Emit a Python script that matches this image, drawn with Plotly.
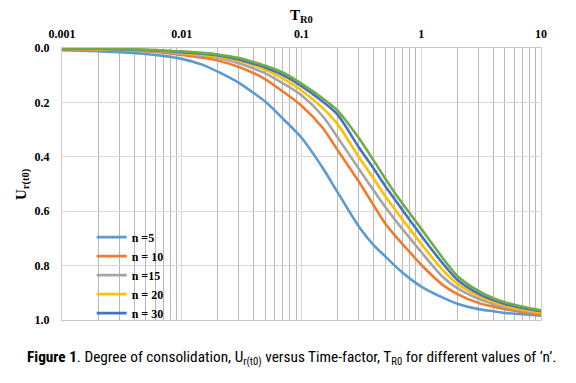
import plotly.graph_objects as go

T = [0.001, 0.002, 0.003, 0.005, 0.007, 0.01, 0.015, 0.02, 0.03, 0.04, 0.05, 0.07,
     0.1, 0.15, 0.2, 0.3, 0.4, 0.5, 0.6, 0.7, 0.8, 1, 1.5, 2, 3, 4, 5, 7, 10]

u_n5 = [0.008, 0.012, 0.015, 0.022, 0.029, 0.040, 0.062, 0.087, 0.128, 0.166, 0.198, 0.26,
        0.33, 0.44, 0.53, 0.655, 0.725, 0.766, 0.80, 0.826, 0.847, 0.877, 0.917, 0.94, 0.96, 0.968, 0.974, 0.979, 0.984]
u_n10 = [0.004, 0.006, 0.008, 0.012, 0.017, 0.026, 0.036, 0.046, 0.07, 0.093, 0.115, 0.16,
         0.212, 0.293, 0.375, 0.49, 0.578, 0.645, 0.688, 0.722, 0.75, 0.797, 0.87, 0.905, 0.937, 0.951, 0.96, 0.971, 0.979]
u_n15 = [0.003, 0.005, 0.007, 0.010, 0.014, 0.021, 0.029, 0.036, 0.056, 0.076, 0.093, 0.13,
         0.174, 0.25, 0.328, 0.443, 0.523, 0.584, 0.63, 0.667, 0.698, 0.75, 0.84, 0.883, 0.922, 0.941, 0.953, 0.965, 0.975]
u_n20 = [0.003, 0.004, 0.006, 0.009, 0.012, 0.018, 0.025, 0.031, 0.047, 0.064, 0.08, 0.113,
         0.156, 0.22, 0.28, 0.40, 0.48, 0.545, 0.592, 0.632, 0.665, 0.72, 0.815, 0.867, 0.912, 0.934, 0.947, 0.961, 0.972]
u_n30 = [0.002, 0.003, 0.005, 0.008, 0.011, 0.015, 0.021, 0.027, 0.042, 0.058, 0.072, 0.10,
         0.14, 0.197, 0.245, 0.364, 0.443, 0.507, 0.556, 0.597, 0.632, 0.69, 0.79, 0.852, 0.903, 0.927, 0.941, 0.956, 0.968]
u_green = [0.001, 0.002, 0.004, 0.006, 0.009, 0.012, 0.018, 0.024, 0.037, 0.052, 0.065, 0.09,
           0.131, 0.185, 0.23, 0.33, 0.413, 0.48, 0.532, 0.573, 0.607, 0.665, 0.77, 0.838, 0.893, 0.92, 0.935, 0.951, 0.964]

series_names = ["n =5", "n = 10", "n =15", "n = 20", "n = 30", "n = 50"]
series_values = [u_n5, u_n10, u_n15, u_n20, u_n30, u_green]
series_colors = ["#5B9BD5", "#ED7D31", "#A5A5A5", "#FFC000", "#4472C4", "#70AD47"]
series_in_legend = [True, True, True, True, True, False]

x_ticks = [0.001, 0.01, 0.1, 1, 10]
x_tick_labels = ["0.001", "0.01", "0.1", "1", "10"]
y_ticks = [0.0, 0.2, 0.4, 0.6, 0.8, 1.0]

serif = "Liberation Serif, Times New Roman, serif"

fig = go.Figure()
for name, vals, col, show in zip(series_names, series_values, series_colors, series_in_legend):
    fig.add_trace(go.Scatter(x=T, y=vals, mode="lines", name=name, showlegend=show,
                             line=dict(color=col, width=2.6, shape="spline", smoothing=0.8)))

fig.update_layout(
    width=576, height=383,
    margin=dict(l=62, r=35, t=48, b=63, autoexpand=False),
    paper_bgcolor="white", plot_bgcolor="white",
    font=dict(family=serif, color="black"),
    showlegend=True,
    legend=dict(x=0.062, y=0.358, xanchor="left", yanchor="top",
                bgcolor="rgba(0,0,0,0)", font=dict(family=serif, size=12, color="black", weight="bold"),
                tracegroupgap=0, itemwidth=30),
    xaxis=dict(type="log", side="top", range=[-3, 1], automargin=False,
               tickvals=x_ticks, ticktext=x_tick_labels,
               tickfont=dict(family=serif, size=12, weight="bold"),
               ticks="", ticklabelstandoff=4,
               showgrid=True, gridcolor="#d9d9d9", gridwidth=1,
               minor=dict(dtick="D1", showgrid=True, gridcolor="#b8b8b8", gridwidth=1, ticks=""),
               showline=True, linecolor="#c8c8c8", mirror=True, zeroline=False),
    yaxis=dict(range=[1.0, 0.0], tickvals=y_ticks, tickformat=".1f", automargin=False,
               tickfont=dict(family=serif, size=12, weight="bold"),
               ticks="", ticklabelstandoff=9,
               showgrid=True, gridcolor="#d9d9d9", gridwidth=1,
               showline=True, linecolor="#c8c8c8", mirror=True, zeroline=False),
)

# axis titles
fig.add_annotation(xref="paper", yref="paper", x=0.5, y=1.119, xanchor="center", yanchor="middle",
                   showarrow=False, text="<b>T<sub>R0</sub></b>",
                   font=dict(family=serif, size=15, color="black"))
fig.add_annotation(xref="paper", yref="paper", x=-0.0835, y=0.5, xanchor="center", yanchor="middle",
                   showarrow=False, textangle=-90, text="<b>U<sub>r(t0)</sub></b>",
                   font=dict(family=serif, size=15, color="black"))

fig.add_annotation(
    xref="paper", yref="paper", x=0.48, y=-0.139, xanchor="center", yanchor="middle",
    showarrow=False,
    text="<b>Figure 1</b>. Degree of consolidation, U<sub>r(t0)</sub> versus Time-factor, T<sub>R0</sub> for different values of \u2018n\u2019.",
    font=dict(family="Liberation Sans Narrow, Roboto Condensed, Arial Narrow, sans-serif", size=15.3, color="black"),
)

fig.write_html("out.html", config={"displayModeBar": False},
               post_script="document.body.style.margin='0';document.body.style.padding='0';")
